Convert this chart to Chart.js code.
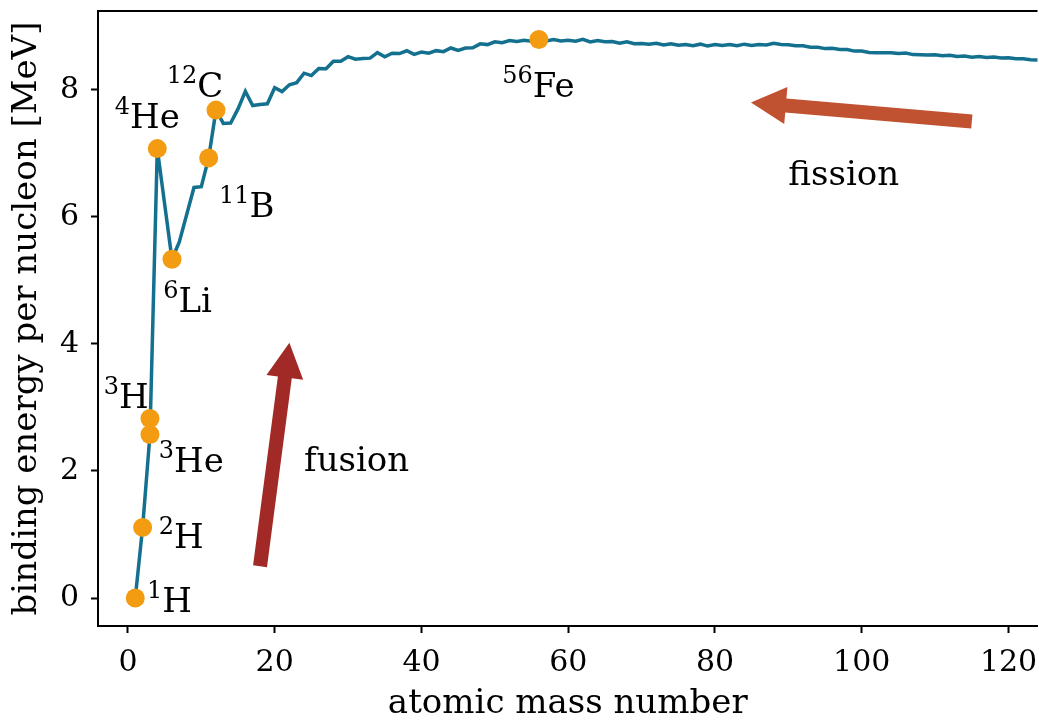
<!DOCTYPE html>
<html>
<head>
<meta charset="utf-8">
<script src="https://cdn.jsdelivr.net/npm/chart.js@4.4.1/dist/chart.umd.min.js"></script>
<style>
  body { margin: 0; background: #fff; overflow: hidden; }
  /* plot runs off the right edge of the page */
  #wrap { width: 1047px; height: 720px; position: relative; }
</style>
</head>
<body>
<div id="wrap"><canvas id="bindingChart"></canvas></div>
<script>
// mass number A and binding energy per nucleon (MeV), one nuclide per A
const massNumbers = [
  1, 2, 3, 4, 6, 7, 9, 10, 11, 12, 13, 14, 15, 16, 17, 18, 19, 20,
  21, 22, 23, 24, 25, 26, 27, 28, 29, 30, 31, 32, 33, 34, 35, 36, 37, 38, 39, 40,
  41, 42, 43, 44, 45, 46, 47, 48, 49, 50, 51, 52, 53, 54, 55, 56, 57, 58, 59, 60,
  61, 62, 63, 64, 65, 66, 67, 68, 69, 70, 71, 72, 73, 74, 75, 76, 77, 78, 79, 80,
  81, 82, 83, 84, 85, 86, 87, 88, 89, 90, 91, 92, 93, 94, 95, 96, 97, 98, 99, 100,
  101, 102, 103, 104, 105, 106, 107, 108, 109, 110, 111, 112, 113, 114, 115, 116,
  117, 118, 119, 120, 121, 122, 123, 124, 125
];
const bindingEnergy = [
  0, 1.112, 2.573, 7.074, 5.332, 5.606, 6.463, 6.475, 6.928, 7.680, 7.470, 7.476, 7.699, 7.976, 7.751, 7.767, 7.779, 8.032,
  7.972, 8.080, 8.112, 8.261, 8.224, 8.334, 8.332, 8.448, 8.449, 8.521, 8.481, 8.493, 8.498, 8.584, 8.520, 8.576, 8.570, 8.614, 8.557, 8.595,
  8.576, 8.616, 8.600, 8.658, 8.619, 8.656, 8.661, 8.723, 8.711, 8.756, 8.742, 8.776, 8.760, 8.778, 8.765, 8.790, 8.770, 8.792, 8.768, 8.781,
  8.765, 8.795, 8.752, 8.777, 8.757, 8.760, 8.734, 8.756, 8.725, 8.729, 8.718, 8.732, 8.705, 8.725, 8.701, 8.711, 8.694, 8.718, 8.688, 8.711,
  8.696, 8.711, 8.693, 8.718, 8.698, 8.712, 8.705, 8.733, 8.714, 8.710, 8.693, 8.692, 8.671, 8.669, 8.648, 8.654, 8.635, 8.635, 8.609, 8.609,
  8.588, 8.584, 8.584, 8.584, 8.571, 8.580, 8.554, 8.550, 8.548, 8.551, 8.537, 8.544, 8.523, 8.531, 8.514, 8.523,
  8.510, 8.517, 8.500, 8.505, 8.489, 8.488, 8.472, 8.467, 8.458
];

// highlighted nuclides
const isoMass = [1, 2, 3, 3, 4, 6, 11, 12, 56];
const isoEnergy = [0, 1.112, 2.827, 2.573, 7.074, 5.332, 6.928, 7.680, 8.790];
const isoSup = ['1', '2', '3', '3', '4', '6', '11', '12', '56'];
const isoName = ['H', 'H', 'H', 'He', 'He', 'Li', 'B', 'C', 'Fe'];
// where each label sits (left edge, baseline) in data units
const labelX = [2.6, 4.2, -3.3, 4.2, -1.8, 4.8, 12.4, 5.3, 51.0];
const labelY = [-0.22, 0.79, 2.99, 1.98, 7.40, 4.50, 6.00, 7.89, 7.89];

// arrows: [tailX, tailY, tipX, tipY]
const fusionArrow = [18, 0.5, 22, 4.02];
const fissionArrow = [115, 7.5, 84.9, 7.8];
const fusionText = [24, 2.0];
const fissionText = [90, 6.5];

const xTicks = [0, 20, 40, 60, 80, 100, 120];
const yTicks = [0, 2, 4, 6, 8];

const SERIF = "'DejaVu Serif', serif";

// draws the top spine, arrows, and the nuclide / process labels
const annotations = {
  id: 'annotations',
  afterDatasetsDraw(chart) {
    const ctx = chart.ctx;
    const xs = chart.scales.x, ys = chart.scales.y;
    const area = chart.chartArea;

    ctx.save();
    ctx.strokeStyle = '#000';
    ctx.lineWidth = 2;
    ctx.beginPath();
    ctx.moveTo(area.left - 1, area.top);
    ctx.lineTo(area.right, area.top);
    ctx.stroke();

    drawArrow(ctx, xs, ys, fusionArrow, '#a22a26');
    drawArrow(ctx, xs, ys, fissionArrow, '#c05131');

    ctx.fillStyle = '#000';
    ctx.textAlign = 'left';
    ctx.textBaseline = 'alphabetic';
    ctx.font = '34px ' + SERIF;
    ctx.fillText('fusion', xs.getPixelForValue(fusionText[0]), ys.getPixelForValue(fusionText[1]));
    ctx.fillText('fission', xs.getPixelForValue(fissionText[0]), ys.getPixelForValue(fissionText[1]));

    for (let i = 0; i < isoName.length; i++) {
      let px = xs.getPixelForValue(labelX[i]);
      const py = ys.getPixelForValue(labelY[i]);
      ctx.font = '24px ' + SERIF;
      ctx.fillText(isoSup[i], px, py - 14);
      px += ctx.measureText(isoSup[i]).width;
      ctx.font = '34px ' + SERIF;
      ctx.fillText(isoName[i], px, py);
    }
    ctx.restore();
  }
};

function drawArrow(ctx, xs, ys, a, color) {
  const x0 = xs.getPixelForValue(a[0]), y0 = ys.getPixelForValue(a[1]);
  const x1 = xs.getPixelForValue(a[2]), y1 = ys.getPixelForValue(a[3]);
  const len = Math.hypot(x1 - x0, y1 - y0);
  const dx = (x1 - x0) / len, dy = (y1 - y0) / len;
  const nx = -dy, ny = dx;
  const w = 7, hw = 18.5, hl = 35;
  const bx = x1 - dx * hl, by = y1 - dy * hl;
  ctx.fillStyle = color;
  ctx.beginPath();
  ctx.moveTo(x0 + nx * w, y0 + ny * w);
  ctx.lineTo(bx + nx * w, by + ny * w);
  ctx.lineTo(bx + nx * hw, by + ny * hw);
  ctx.lineTo(x1, y1);
  ctx.lineTo(bx - nx * hw, by - ny * hw);
  ctx.lineTo(bx - nx * w, by - ny * w);
  ctx.lineTo(x0 - nx * w, y0 - ny * w);
  ctx.closePath();
  ctx.fill();
}

// drop the extra room Chart.js keeps for end tick labels
function noEdgePadding(s) {
  s.paddingTop = 0;
  s.paddingBottom = 0;
  s.paddingLeft = 0;
  s.paddingRight = 0;
}

const linePoints = massNumbers.map((a, i) => ({ x: a, y: bindingEnergy[i] }));
const isoPoints = isoMass.map((a, i) => ({ x: a, y: isoEnergy[i] }));

new Chart(document.getElementById('bindingChart'), {
  type: 'line',
  data: {
    datasets: [{
      data: isoPoints,
      showLine: false,
      pointRadius: 9.5,
      pointBackgroundColor: '#f39c12',
      pointBorderWidth: 0,
      order: 0
    }, {
      data: linePoints,
      borderColor: '#13708f',
      borderWidth: 3.5,
      pointRadius: 0,
      tension: 0,
      order: 1
    }]
  },
  options: {
    responsive: true,
    maintainAspectRatio: false,
    animation: false,
    layout: { padding: { top: 11, right: 0, left: 0, bottom: 0 } },
    plugins: {
      legend: { display: false },
      tooltip: { enabled: false }
    },
    scales: {
      x: {
        type: 'linear',
        min: -4.08,
        max: 123.95,
        afterBuildTicks: s => { s.ticks = xTicks.map(v => ({ value: v })); },
        afterFit: s => { s.height = 94; noEdgePadding(s); },
        ticks: {
          color: '#000',
          font: { family: SERIF, size: 30 },
          padding: 12,
          maxRotation: 0
        },
        grid: { drawOnChartArea: false, tickLength: 7, tickWidth: 2, tickColor: '#000' },
        border: { color: '#000', width: 2 },
        title: {
          display: true,
          text: 'atomic mass number',
          color: '#000',
          font: { family: SERIF, size: 34, lineHeight: 0.95 },
          padding: { top: 0, bottom: 0 }
        }
      },
      y: {
        type: 'linear',
        min: -0.44,
        max: 9.24,
        afterBuildTicks: s => { s.ticks = yTicks.map(v => ({ value: v })); },
        afterFit: s => { s.width = 98; noEdgePadding(s); },
        ticks: {
          color: '#000',
          font: { family: SERIF, size: 30 },
          padding: 12
        },
        grid: { drawOnChartArea: false, tickLength: 7, tickWidth: 2, tickColor: '#000' },
        border: { color: '#000', width: 2 },
        title: {
          display: true,
          text: 'binding energy per nucleon [MeV]',
          color: '#000',
          font: { family: SERIF, size: 34, lineHeight: 0.95 },
          padding: { top: 11, bottom: 0 }
        }
      }
    }
  },
  plugins: [annotations]
});
</script>
</body>
</html>
